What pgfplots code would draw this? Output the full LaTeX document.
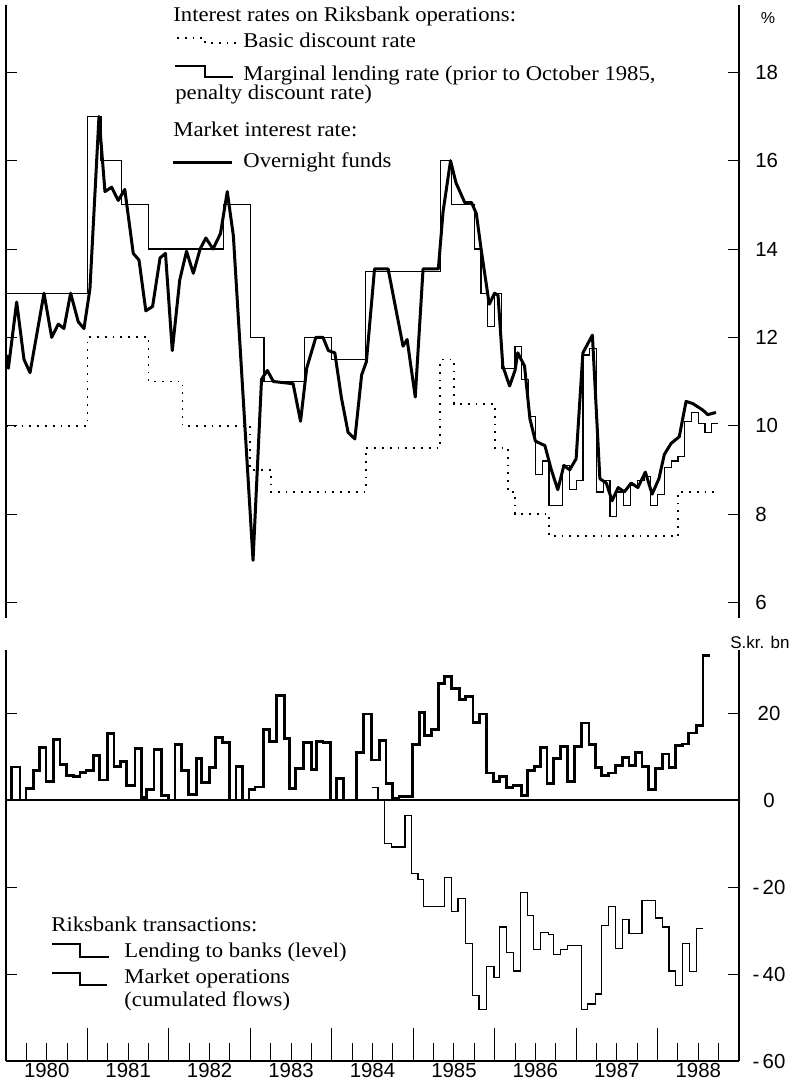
\documentclass[border=0pt]{standalone}
\usepackage{pgfplots}
\pgfplotsset{compat=1.18}
\usepackage{fontspec}
\setmainfont{Liberation Sans}
\newfontfamily\legfont[FakeStretch=1.08]{Liberation Serif}
\newcommand\lf{\fontsize{10.5}{12}\selectfont\legfont}
\newcommand\tf{\fontsize{10.2}{12}\selectfont}
\begin{document}
\begin{tikzpicture}
\path[use as bounding box] (0pt,0pt) rectangle (397.5pt,544pt);
% ---------------- top panel ----------------
\begin{axis}[
  at={(3pt,235pt)}, anchor=south west,
  scale only axis, width=366.5pt, height=306.5pt,
  xmin=0, xmax=108, ymin=5.646, ymax=19.525,
  axis x line=none, axis y line=box,
  axis line style={-, line width=0.7pt},
  xtick=\empty,
  ytick={6,8,10,12,14,16,18}, yticklabels={6,8,10,12,14,16,18},
  yticklabel pos=right, ytick pos=both,
  tick align=inside, major tick length=5.5pt,
  tick style={line width=0.5pt, black},
  yticklabel style={anchor=west, inner sep=0pt, xshift=8pt, font=\tf},
]
% basic discount rate
\addplot[const plot, line width=0.9pt, dash pattern=on 0.9pt off 3pt] coordinates {
(0,10) (12,12) (21,11) (26,10) (36,9) (39,8.5) (53,9.5) (64,11.5) (66,10.5) (72,9.5) (74,8.5) (75,8.0) (80,7.5) (99,8.5) (104.6,8.5)};
% marginal lending rate
\addplot[const plot, line width=0.6pt] coordinates {
(0,13) (12,17) (14,16) (17,15) (21,14) (32,15) (36,12) (38,11) (44,12) (48,11.5) (53,13.5) (64,16) (65.6,15) (69,14) (70,13) (71,12.25) (72,13) (73,11.3) (75,11.8) (76,11.05) (77,10.2) (78,8.9) (79,9.2) (80,8.2) (82,9.1) (83,8.55) (84,8.75) (85,11.6) (86,11.75) (87,8.5) (88,8.75) (89,7.95) (90,8.5) (91,8.2) (92,8.65) (93,8.75) (94,8.85) (95,8.2) (96,8.45) (97,9.05) (98,9.2) (99,9.3) (100,10.1) (101,10.3) (102,10.05) (103,9.85) (104,10.05) (104.9,10.05)};
% overnight funds
\addplot[sharp plot, line width=1.5pt, line join=round] coordinates {
(0.1,11.6) (0.35,11.3) (1.57,12.8) (2.65,11.5) (3.54,11.2) (5.6,13.0) (6.73,12.0) (7.7,12.3) (8.54,12.2) (9.52,13.0) (10.65,12.35) (11.49,12.2) (12.37,13.1) (13.7,17.0) (14.58,15.3) (15.56,15.4) (16.54,15.1) (17.5,15.35) (18.75,13.9) (19.6,13.75) (20.6,12.6) (21.6,12.7) (22.7,13.8) (23.5,13.9) (24.5,11.7) (25.6,13.3) (26.6,13.95) (27.6,13.45) (28.6,14.0) (29.45,14.25) (30.5,14.0) (31.6,14.35) (32.6,15.3) (33.5,14.3) (36.4,6.95) (37.65,11.05) (38.5,11.25) (39.4,11.0) (42.3,10.95) (43.4,10.1) (44.3,11.3) (45.65,12.0) (46.7,12.0) (47.5,11.7) (48.45,11.65) (49.4,10.65) (50.4,9.85) (51.4,9.7) (52.4,11.15) (53.1,11.45) (54.3,13.55) (56.3,13.55) (58.5,11.8) (59.1,11.95) (60.3,10.65) (61.45,13.55) (63.7,13.55) (64.4,14.85) (65.5,16.0) (66.3,15.5) (67.6,15.05) (68.6,15.05) (69.3,14.8) (70.0,14.0) (71.2,12.75) (72.0,13.0) (72.5,12.95) (73.2,11.35) (74.2,10.9) (75.0,11.25) (75.4,11.65) (76.4,11.35) (77.2,10.15) (78.0,9.65) (79.4,9.55) (80.35,9.0) (81.3,8.55) (82.2,9.1) (83.05,9.0) (84.0,9.25) (85.0,11.65) (86.4,12.05) (87.5,8.8) (88.45,8.7) (89.3,8.3) (90.2,8.6) (91.1,8.5) (92.1,8.7) (93.1,8.6) (94.2,8.95) (95.2,8.45) (96.2,8.8) (97.0,9.35) (98.0,9.6) (99.2,9.75) (100.2,10.55) (101.2,10.5) (102.7,10.35) (103.4,10.25) (104.6,10.3)};
\end{axis}
% ---------------- bottom panel ----------------
\begin{axis}[
  at={(3pt,13.5pt)}, anchor=south west,
  scale only axis, width=366.5pt, height=205.5pt,
  xmin=0, xmax=108, ymin=-60, ymax=34.5,
  axis x line=bottom, axis y line=box,
  axis line style={-, line width=0.7pt},
  x axis line style={-}, y axis line style={-},
  xtick={6,18,30,42,54,66,78,90,102},
  xticklabels={1980,1981,1982,1983,1984,1985,1986,1987,1988},
  minor xtick={3,6,9,15,18,21,27,30,33,39,42,45,51,54,57,63,66,69,75,78,81,87,90,93,99,102,105},
  minor tick length=9pt,
  extra x ticks={12,24,36,48,60,72,84,96}, extra x tick labels={},
  extra x tick style={major tick length=16.5pt},
  xtick pos=bottom,
  ytick={-60,-40,-20,0,20}, yticklabels={{-\,60},{-\,40},{-\,20},0,20},
  yticklabel pos=right, ytick pos=both,
  tick align=inside, major tick length=5.5pt,
  tick style={line width=0.5pt, black},
  xticklabel style={font=\tf, inner sep=1pt},
  yticklabel style={anchor=center, inner sep=0pt, xshift=15pt, font=\tf},
]
\draw[line width=0.6pt] (axis cs:0,0) -- (axis cs:108,0);
% lending to banks (level)
\addplot[const plot, line width=1.4pt] coordinates {
(0,0) (0.85,7.6) (2.05,0) (2.95,2.7) (4.0,6.8) (4.9,12.0) (5.9,4.3) (6.95,13.9) (7.95,8.1) (8.9,5.7) (9.9,5.4) (10.9,6.3) (11.8,6.8) (12.9,10.3) (13.8,4.6) (14.9,15.3) (15.9,7.8) (16.9,8.8) (17.8,3.3) (19.0,11.8) (20.0,0.6) (20.7,2.5) (21.8,11.6) (22.9,1.0) (23.9,0) (24.9,12.8) (25.9,6.8) (26.85,1.2) (28.1,9.5) (28.8,4.0) (30.0,7.5) (30.9,14.4) (31.9,13.2) (32.9,0) (33.9,7.8) (34.85,0) (35.8,2.4) (36.7,3.0) (37.9,16.2) (38.8,13.4) (39.9,24.0) (41.0,14.1) (41.8,2.7) (42.7,7.3) (43.8,13.2) (45.0,7.1) (45.8,13.5) (46.7,13.2) (47.8,0) (48.7,5.0) (49.7,0) (51.7,10.9) (52.7,19.8) (53.9,9.2) (55.0,13.7) (56.0,3.8) (57.0,0.4) (57.9,0.8) (59.9,12.8) (60.9,20.2) (61.7,14.8) (62.7,16.2) (63.7,26.8) (64.6,28.5) (65.6,25.6) (66.8,23.1) (67.7,23.8) (68.8,17.9) (69.8,19.8) (70.8,6.2) (71.8,4.3) (72.7,5.4) (73.7,2.9) (74.7,3.3) (75.9,1.0) (76.8,6.8) (77.9,7.7) (78.7,12.0) (79.7,3.8) (80.7,9.5) (81.7,12.3) (82.7,4.2) (83.8,12.3) (84.8,17.7) (85.9,12.8) (86.9,7.4) (87.7,5.6) (88.8,6.2) (89.8,7.9) (90.8,9.7) (91.8,7.9) (92.8,11.0) (93.7,7.7) (94.7,2.5) (95.7,7.2) (96.7,10.6) (97.7,7.4) (98.7,12.5) (99.7,12.9) (100.6,15.4) (101.7,17.2) (102.7,33.3) (103.8,33.3)};
% market operations (cumulated flows)
\addplot[const plot, line width=0.6pt] coordinates {
(53.9,2.9) (54.8,0) (55.8,-9.9) (56.8,-10.8) (58.8,-3.6) (59.7,-16.9) (60.7,-18.3) (61.5,-24.5) (64.6,-17.8) (65.6,-25.6) (66.6,-22.6) (67.7,-33.0) (68.7,-45.0) (69.7,-48.2) (70.8,-38.2) (71.9,-40.8) (72.7,-29.2) (73.7,-35.1) (74.8,-39.3) (75.8,-21.3) (76.8,-26.6) (77.7,-34.4) (78.7,-30.4) (79.9,-31.0) (80.7,-35.5) (81.7,-34.4) (82.7,-33.5) (84.8,-48.2) (85.7,-46.9) (86.9,-44.6) (87.7,-28.9) (88.8,-24.5) (89.8,-34.2) (90.8,-27.5) (91.8,-30.7) (93.7,-23.1) (95.7,-27.1) (96.7,-29.2) (97.7,-39.3) (98.7,-42.6) (99.7,-33.0) (100.7,-39.5) (101.7,-29.5) (102.7,-29.5)};
\end{axis}
% ---------------- legends and units ----------------
\node[anchor=base west, inner sep=0pt] at (86.5pt,533pt) {\lf Interest rates on Riksbank operations:};
\draw[line width=0.9pt, dash pattern=on 0.9pt off 3pt] (88.5pt,525pt) -- (102.5pt,525pt) -- (102.5pt,522.5pt) -- (119pt,522.5pt);
\node[anchor=base west, inner sep=0pt] at (121.5pt,520pt) {\lf Basic discount rate};
\draw[line width=0.6pt] (87.5pt,511pt) -- (102.5pt,511pt) -- (102.5pt,505.5pt) -- (116.5pt,505.5pt);
\node[anchor=base west, inner sep=0pt] at (121.5pt,503.5pt) {\lf Marginal lending rate (prior to October 1985,};
\node[anchor=base west, inner sep=0pt] at (87.5pt,494pt) {\lf penalty discount rate)};
\node[anchor=base west, inner sep=0pt] at (86.5pt,475.5pt) {\lf Market interest rate:};
\draw[line width=1.5pt] (86.5pt,462.5pt) -- (116pt,462.5pt);
\node[anchor=base west, inner sep=0pt] at (121.5pt,460pt) {\lf Overnight funds};
\node[anchor=base west, inner sep=0pt] at (25.5pt,78pt) {\lf Riksbank transactions:};
\draw[line width=1.1pt] (26pt,72pt) -- (40pt,72pt) -- (40pt,65.5pt) -- (54.5pt,65.5pt);
\node[anchor=base west, inner sep=0pt] at (62pt,65pt) {\lf Lending to banks (level)};
\draw[line width=0.6pt] (26pt,57.5pt) -- (40pt,57.5pt) -- (40pt,51.5pt) -- (53.5pt,51.5pt);
\node[anchor=base west, inner sep=0pt] at (62pt,52pt) {\lf Market operations};
\node[anchor=base west, inner sep=0pt] at (62pt,40.5pt) {\lf (cumulated flows)};
\node[inner sep=0pt] at (384pt,535pt) {\fontsize{8}{9}\selectfont\%};
\node[inner sep=0pt] at (380pt,223pt) {\fontsize{8.5}{10}\selectfont S.kr. bn};
\end{tikzpicture}
\end{document}
